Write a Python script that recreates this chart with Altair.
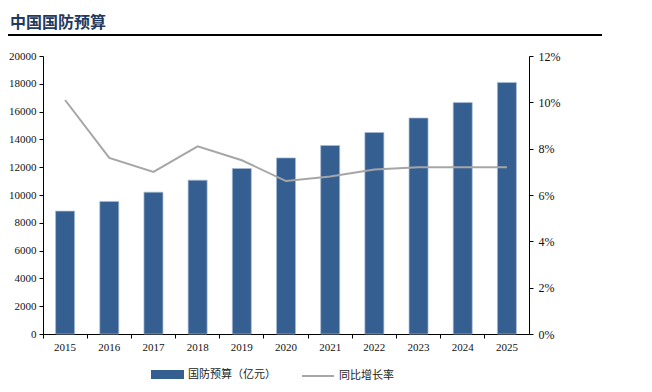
import altair as alt
import pandas as pd

years = ["2015", "2016", "2017", "2018", "2019", "2020", "2021", "2022", "2023", "2024", "2025"]
budget = [8840, 9540, 10205, 11067, 11908, 12670, 13560, 14500, 15540, 16650, 18090]
growth = [0.101, 0.076, 0.070, 0.081, 0.075, 0.066, 0.068, 0.071, 0.072, 0.072, 0.072]
left_ticks = [0, 2000, 4000, 6000, 8000, 10000, 12000, 14000, 16000, 18000, 20000]
right_ticks = [0, 0.02, 0.04, 0.06, 0.08, 0.10, 0.12]
bar_name = "国防预算（亿元）"
line_name = "同比增长率"

df = pd.DataFrame({
    "year": years,
    "budget": budget,
    "growth": growth,
    "s1": [bar_name] * len(years),
    "s2": [line_name] * len(years),
})

SERIF = "Liberation Serif"
CJK = "Noto Sans CJK SC"

x_enc = alt.X(
    "year:N",
    sort=years,
    title=None,
    scale=alt.Scale(paddingInner=0, paddingOuter=0),
    axis=alt.Axis(
        labelAngle=0, bandPosition=0, domainColor="#000000", tickColor="#000000",
        tickSize=4, labelPadding=3, labelFont=SERIF, labelFontSize=11,
        labelColor="#111111", grid=False,
    ),
)

bars = alt.Chart(df).mark_bar(width={"band": 0.43}, stroke="#a9bbd4", strokeWidth=0.7).encode(
    x=x_enc,
    y=alt.Y(
        "budget:Q",
        title=None,
        scale=alt.Scale(domain=[0, 20000], nice=False),
        axis=alt.Axis(
            orient="left", values=left_ticks, format="d", domainColor="#000000",
            tickColor="#000000", tickSize=4, labelPadding=3, labelFont=SERIF,
            labelFontSize=11, labelColor="#111111", grid=False,
        ),
    ),
    color=alt.Color(
        "s1:N",
        scale=alt.Scale(domain=[bar_name], range=["#365F91"]),
        legend=alt.Legend(
            title=None, orient="none", legendX=108, legendY=302, padding=0,
            symbolType="M-1,-0.27H1V0.27H-1Z", symbolSize=1089, symbolStrokeWidth=0,
            labelFont=CJK, labelFontSize=11, labelColor="#222222", labelOffset=4,
        ),
    ),
)

line = alt.Chart(df).mark_line(strokeWidth=2).encode(
    x=alt.X("year:N", sort=years),
    y=alt.Y(
        "growth:Q",
        title=None,
        scale=alt.Scale(domain=[0, 0.12], nice=False),
        axis=alt.Axis(
            orient="right", values=right_ticks, format=".0%", domainColor="#000000",
            tickColor="#000000", tickSize=4, labelPadding=5, labelFont=SERIF,
            labelFontSize=12, labelColor="#111111", grid=False,
        ),
    ),
    stroke=alt.Stroke(
        "s2:N",
        scale=alt.Scale(domain=[line_name], range=["#A6A6A6"]),
        legend=alt.Legend(
            title=None, orient="none", legendX=258, legendY=303, padding=0,
            symbolType="stroke", symbolSize=1024, symbolStrokeWidth=2,
            labelFont=CJK, labelFontSize=11, labelColor="#222222", labelOffset=4,
        ),
    ),
)

header_rule = alt.Chart(df).mark_rule(color="#000000", strokeWidth=2.2).encode(
    x=alt.value(-35), x2=alt.value(559), y=alt.value(-21)
)

chart = (
    alt.layer(bars, line, header_rule)
    .resolve_scale(y="independent", color="independent", stroke="independent")
    .properties(
        width=486,
        height=278,
        autosize=alt.AutoSizeParams(type="none"),
        padding={"left": 35, "top": 48, "right": 115, "bottom": 50},
        title=alt.TitleParams(
            "中国国防预算", anchor="start", frame="group", dx=-33, offset=3,
            font=CJK, fontSize=16, fontWeight="bold", color="#1F3A60",
        ),
    )
    .configure_view(strokeWidth=0)
)

chart.save("out.html", embed_options={"renderer": "svg", "actions": False})
